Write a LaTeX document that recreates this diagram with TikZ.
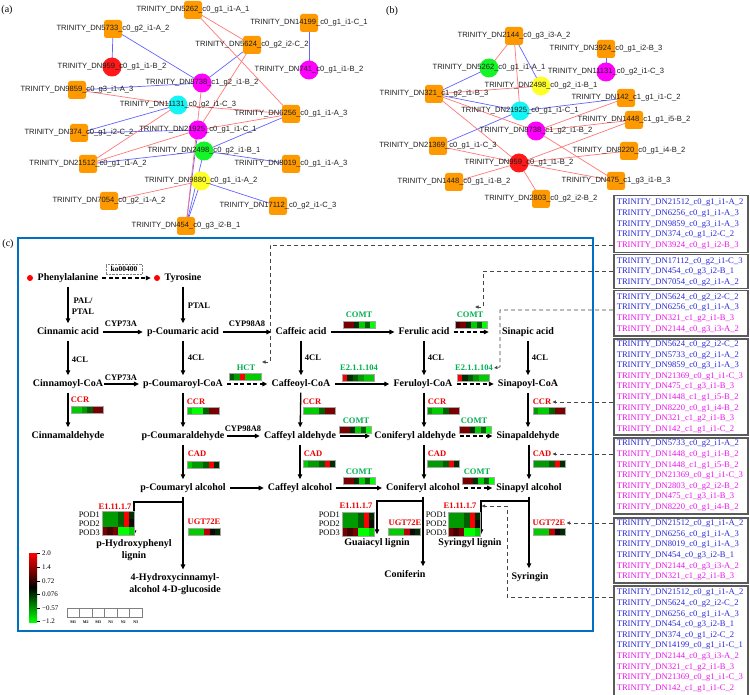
\documentclass[tikz,border=0pt]{standalone}
\usepackage{fontspec}
\setmainfont{Liberation Serif}
\newfontfamily\netfont{Liberation Sans}
\usetikzlibrary{arrows.meta,calc}
\definecolor{netorange}{RGB}{255,153,0}
\definecolor{netred}{RGB}{255,120,120}
\definecolor{netblue}{RGB}{100,100,255}
\definecolor{ncRed}{RGB}{255,25,25}
\definecolor{ncMag}{RGB}{255,0,255}
\definecolor{ncCyan}{RGB}{20,245,245}
\definecolor{ncGreen}{RGB}{20,245,40}
\definecolor{ncYellow}{RGB}{255,255,40}
\definecolor{netgray}{RGB}{30,30,30}
\definecolor{frameblue}{RGB}{0,112,192}
\definecolor{enzgreen}{RGB}{0,176,80}
\definecolor{enzred}{RGB}{240,0,0}
\definecolor{hGa}{RGB}{0,255,0}
\definecolor{hGb}{RGB}{0,205,0}
\definecolor{hGc}{RGB}{0,155,0}
\definecolor{hGd}{RGB}{0,95,0}
\definecolor{hGe}{RGB}{0,45,0}
\definecolor{hK}{RGB}{10,10,10}
\definecolor{hRa}{RGB}{255,0,0}
\definecolor{hRb}{RGB}{190,0,0}
\definecolor{hRc}{RGB}{120,0,0}
\definecolor{hRd}{RGB}{70,0,0}
\definecolor{tblue}{RGB}{40,40,215}
\definecolor{tmag}{RGB}{235,20,235}
\definecolor{boxgray}{RGB}{90,90,90}
\definecolor{conngray}{RGB}{70,70,70}
\pgfdeclarelayer{bg}
\pgfdeclarelayer{edges}
\pgfsetlayers{bg,edges,main}
\newcommand{\nn}[5]{\node[#4,label={[nlab]center:#5}] (#1) at (#2,#3) {};}
\newcommand{\hrow}[9]{\foreach \cc [count=\ii from 0] in {#4,#5,#6,#7,#8,#9}{\fill[\cc] ({#1+\ii*5.4},#2) rectangle ++(5.4,#3);}}
\newcommand{\hmap}[8]{\hrow{#1}{#2}{7}{#3}{#4}{#5}{#6}{#7}{#8}\draw[hmline] (#1,#2) rectangle ++(32.4,7);}
\newcommand{\podmap}[2]{\hrow{#1}{#2}{8}{hGc}{hGc}{hGc}{hGd}{hRa}{hGe}\hrow{#1}{#2+8}{8}{hGc}{hGc}{hGc}{hGd}{hRa}{hK}\hrow{#1}{#2+16}{8}{hRc}{hRd}{hRc}{hGa}{hGa}{hGb}\draw[hmline] (#1,#2) rectangle ++(32.4,24);}
\newcommand{\tb}[1]{\textcolor{tblue}{TRINITY\_#1}}
\newcommand{\tm}[1]{\textcolor{tmag}{TRINITY\_#1}}
\begin{document}
\begin{tikzpicture}[x=1pt,y=-1pt,
  sq/.style={rectangle,rounded corners=2.5pt,fill=netorange,minimum size=18pt,inner sep=0},
  cir/.style={circle,minimum size=19pt,inner sep=0},
  nlab/.style={font=\netfont\fontsize{7.6}{8}\selectfont,text=netgray,inner sep=0},
  eb/.style={draw=netblue,line width=0.7pt},
  er/.style={draw=netred,line width=0.7pt},
  plab/.style={font=\fontsize{10}{11}\selectfont,inner sep=0},
  cmp/.style={font=\bfseries\fontsize{10}{11}\selectfont,inner sep=1pt,text height=7pt,text depth=2pt},
  cmp2/.style={font=\bfseries\fontsize{10}{11.5}\selectfont,inner sep=1pt,align=center},
  enz/.style={font=\bfseries\fontsize{8.5}{11}\selectfont,inner sep=0},
  genz/.style={enz,text=enzgreen},
  renz/.style={enz,text=enzred},
  podl/.style={font=\fontsize{8.4}{9}\selectfont,inner sep=0,anchor=east},
  rdot/.style={circle,fill=red,inner sep=0,minimum size=6pt},
  kob/.style={draw=gray,densely dotted,font=\bfseries\fontsize{7.5}{8}\selectfont,inner sep=1.2pt,minimum width=36pt,minimum height=10pt},
  arr/.style={line width=1.3pt,-{Triangle[length=5pt,width=4.5pt]},shorten <=3pt,shorten >=3pt},
  arrb/.style={line width=1.3pt,-{Triangle[length=5pt,width=4.5pt]},shorten >=3pt},
  darr/.style={arr,dash pattern=on 4pt off 2.5pt},
  hmline/.style={draw=gray!70,line width=0.4pt},
  cbl/.style={font=\fontsize{7}{8}\selectfont,inner sep=0,anchor=west},
  rbox/.style={draw=boxgray,line width=1.5pt,anchor=north west,align=left,text width=128pt,inner xsep=3pt,inner ysep=2pt,font=\fontsize{8.6}{10.6}\selectfont},
  conn/.style={draw=conngray,line width=0.8pt,dash pattern=on 4pt off 3pt,-{Triangle[length=3.5pt,width=3pt]}}
]
\useasboundingbox (0,0) rectangle (750,695);
\begin{pgfonlayer}{bg}
\fill[white] (0,0) rectangle (750,695);
\end{pgfonlayer}
% ---------------- panel (a)
\nn{a5262}{193}{10}{sq}{TRINITY\_DN5262\_c0\_g1\_i1-A\_1}
\nn{a5733}{113}{29}{sq}{TRINITY\_DN5733\_c0\_g2\_i1-A\_2}
\nn{a14199}{309}{23}{sq}{TRINITY\_DN14199\_c0\_g1\_i1-C\_1}
\nn{a5624}{252}{45}{sq}{TRINITY\_DN5624\_c0\_g2\_i2-C\_2}
\nn{a959}{112}{67}{cir,fill=ncRed}{TRINITY\_DN959\_c0\_g1\_i1-B\_2}
\nn{a741}{309}{70}{cir,fill=ncMag}{TRINITY\_DN741\_c0\_g1\_i1-B\_2}
\nn{a8738}{202}{83}{cir,fill=ncMag}{TRINITY\_DN8738\_c1\_g2\_i1-B\_2}
\nn{a9859}{77}{90}{sq}{TRINITY\_DN9859\_c0\_g3\_i1-A\_3}
\nn{a11131}{178}{105}{cir,fill=ncCyan}{TRINITY\_DN11131\_c0\_g2\_i1-C\_3}
\nn{a6256}{291}{114}{sq}{TRINITY\_DN6256\_c0\_g1\_i1-A\_3}
\nn{a21925}{198}{130}{cir,fill=ncMag}{TRINITY\_DN21925\_c0\_g1\_i1-C\_1}
\nn{a374}{79}{133}{sq}{TRINITY\_DN374\_c0\_g1\_i2-C\_2}
\nn{a2498}{204}{151}{cir,fill=ncGreen}{TRINITY\_DN2498\_c0\_g2\_i1-B\_1}
\nn{a21512}{88}{164}{sq}{TRINITY\_DN21512\_c0\_g1\_i1-A\_2}
\nn{a8019}{291}{164}{sq}{TRINITY\_DN8019\_c0\_g1\_i1-A\_3}
\nn{a9880}{201}{181}{cir,fill=ncYellow}{TRINITY\_DN9880\_c0\_g1\_i1-A\_2}
\nn{a7054}{109}{201}{sq}{TRINITY\_DN7054\_c0\_g2\_i1-A\_2}
\nn{a17112}{278}{206}{sq}{TRINITY\_DN17112\_c0\_g2\_i1-C\_3}
\nn{a454}{186}{226}{sq}{TRINITY\_DN454\_c0\_g3\_i2-B\_1}
% ---------------- panel (b)
\nn{b2144}{514}{36}{sq}{TRINITY\_DN2144\_c0\_g3\_i3-A\_2}
\nn{b3924}{606}{49}{sq}{TRINITY\_DN3924\_c0\_g1\_i2-B\_3}
\nn{b5262}{489}{68}{cir,fill=ncGreen}{TRINITY\_DN5262\_c0\_g1\_i1-A\_1}
\nn{b11131}{606}{72}{cir,fill=ncMag}{TRINITY\_DN11131\_c0\_g2\_i1-C\_3}
\nn{b2498}{541}{86}{cir,fill=ncYellow}{TRINITY\_DN2498\_c0\_g2\_i1-B\_1}
\nn{b321}{434}{94}{sq}{TRINITY\_DN321\_c1\_g2\_i1-B\_3}
\nn{b142}{626}{98}{sq}{TRINITY\_DN142\_c1\_g1\_i1-C\_2}
\nn{b21925}{520}{111}{cir,fill=ncCyan}{TRINITY\_DN21925\_c0\_g1\_i1-C\_1}
\nn{b1448c}{634}{120}{sq}{TRINITY\_DN1448\_c1\_g1\_i5-B\_2}
\nn{b8738}{536}{131}{cir,fill=ncMag}{TRINITY\_DN8738\_c1\_g2\_i1-B\_2}
\nn{b21369}{438}{146}{sq}{TRINITY\_DN21369\_c0\_g1\_i1-C\_3}
\nn{b8220}{629}{151}{sq}{TRINITY\_DN8220\_c0\_g1\_i4-B\_2}
\nn{b959}{519}{163}{cir,fill=ncRed}{TRINITY\_DN959\_c0\_g1\_i1-B\_2}
\nn{b475}{616}{181}{sq}{TRINITY\_DN475\_c1\_g3\_i1-B\_3}
\nn{b1448}{454}{182}{sq}{TRINITY\_DN1448\_c0\_g1\_i1-B\_2}
\nn{b2803}{541}{199}{sq}{TRINITY\_DN2803\_c0\_g2\_i2-B\_2}
\begin{pgfonlayer}{edges}
\foreach \u/\v in {a5733/a959,a5733/a8738,a5624/a8738,a14199/a741,a9859/a8738,a11131/a374,a374/a21925,a21512/a2498,a2498/a6256,a2498/a8019,a9880/a17112,a454/a21925,a454/a2498,a454/a9880,
  b2144/b2498,b3924/b11131,b5262/b321,b321/b21925,b21925/b21369,b21925/b142}
  \draw[eb] (\u.center) -- (\v.center);
\foreach \u/\v in {a5262/a5624,a5262/a6256,a5624/a21925,a9859/a11131,a11131/a6256,a21512/a11131,a21512/a21925,a7054/a9880,a21925/a6256,a454/a8738,
  b2144/b5262,b2144/b21925,b321/b2498,b321/b8738,b321/b959,b21369/b959,b959/b1448,b959/b2803,b959/b475,b959/b8220,b959/b1448c,b8738/b142,b8738/b1448c,b8738/b475}
  \draw[er] (\u.center) -- (\v.center);
\end{pgfonlayer}
\node[plab] (pa) at (7,10) {(a)};
\node[plab] (pb) at (392,11) {(b)};
\node[plab] (pc) at (8,244) {(c)};
% ---------------- panel (c)
\draw[frameblue,line width=1.8pt] (18,238) rectangle (593,631);
\node[cmp] (phe) at (68,278) {Phenylalanine};
\node[rdot] (dphe) at (30,278) {};
\node[cmp] (tyr) at (183,278) {Tyrosine};
\node[rdot] (dtyr) at (157,278) {};
\node[kob] (ko) at (124,269) {ko00400};
\node[cmp] (cinn) at (68,332) {Cinnamic acid};
\node[cmp] (pcoum) at (183,332) {p-Coumaric acid};
\node[cmp] (caff) at (301,332) {Caffeic acid};
\node[cmp] (fer) at (424,332) {Ferulic acid};
\node[cmp] (sinac) at (528,332) {Sinapic acid};
\node[cmp] (cinncoa) at (68,384) {Cinnamoyl-CoA};
\node[cmp] (pcoumcoa) at (183,384) {p-Coumaroyl-CoA};
\node[cmp] (caffcoa) at (301,384) {Caffeoyl-CoA};
\node[cmp] (fercoa) at (423,384) {Feruloyl-CoA};
\node[cmp] (sincoa) at (528,384) {Sinapoyl-CoA};
\node[cmp] (cinnald) at (68,436) {Cinnamaldehyde};
\node[cmp] (pcoumald) at (183,436) {p-Coumaraldehyde};
\node[cmp] (caffald) at (300,436) {Caffeyl aldehyde};
\node[cmp] (conald) at (415,436) {Coniferyl aldehyde};
\node[cmp] (sinald) at (528,436) {Sinapaldehyde};
\node[cmp] (pcoumalc) at (183,488) {p-Coumaryl alcohol};
\node[cmp] (caffalc) at (300,488) {Caffeyl alcohol};
\node[cmp] (conalc) at (423,488) {Coniferyl alcohol};
\node[cmp] (sinalc) at (529,488) {Sinapyl alcohol};
\node[cmp2] (phlig) at (134,550) {p-Hydroxyphenyl\\lignin};
\node[cmp2] (hcg) at (175,584) {4-Hydroxycinnamyl-\\alcohol 4-D-glucoside};
\node[cmp] (glig) at (377,543) {Guaiacyl lignin};
\node[cmp] (conif) at (405,575) {Coniferin};
\node[cmp] (slig) at (470,543) {Syringyl lignin};
\node[cmp] (syrin) at (530,577) {Syringin};
% black enzyme labels
\node[enz,align=center] (kpal) at (83,306) {PAL/\\PTAL};
\node[enz] (kptal) at (199,306) {PTAL};
\node[enz] (kcyp1) at (121,324) {CYP73A};
\node[enz] (kcyp2) at (247,324) {CYP98A8};
\node[enz] (k4cl1) at (80,360) {4CL};
\node[enz] (k4cl2) at (196,358) {4CL};
\node[enz] (k4cl3) at (313,358) {4CL};
\node[enz] (k4cl4) at (436,358) {4CL};
\node[enz] (k4cl5) at (540,358) {4CL};
\node[enz] (kcyp3) at (121,378) {CYP73A};
\node[enz] (kcyp4) at (243,429) {CYP98A8};
% arrows
\draw[darr] (phe) -- (dtyr);
\draw[arr] (phe) -- (cinn);
\draw[arr] (tyr) -- (pcoum);
\draw[arr] (cinn) -- (pcoum);
\draw[arr] (pcoum) -- (caff);
\draw[arr] (caff) -- (fer);
\draw[darr,shorten >=12pt] (fer) -- (sinac);
\draw[arr] (cinn) -- (cinncoa);
\draw[arr] (pcoum) -- (pcoumcoa);
\draw[arr] (caff) -- (caffcoa);
\draw[arr] (fer.south) -- (fer.south |- fercoa.north);
\draw[arr] (sinac) -- (sincoa);
\draw[arr,shorten <=0pt] (cinncoa) -- (pcoumcoa);
\draw[darr] (pcoumcoa) -- (caffcoa);
\draw[arr] (caffcoa) -- (fercoa);
\draw[darr] (fercoa) -- (sincoa);
\draw[arr] (cinncoa) -- (cinnald);
\draw[arr] (pcoumcoa) -- (pcoumald);
\draw[arr] (caffcoa) -- (caffald);
\draw[arr] (fer.south |- fercoa.south) -- (fer.south |- conald.north);
\draw[arr] (sincoa) -- (sinald);
\draw[arr,shorten <=1pt] (pcoumald) -- (caffald);
\draw[arr] (caffald) -- (conald);
\draw[darr] (conald) -- (sinald);
\draw[arr] (pcoumald) -- (pcoumalc);
\draw[arr] (caffald) -- (caffalc);
\draw[arr] (fer.south |- conald.south) -- (fer.south |- conalc.north);
\draw[arr] (sinald.south -| sinalc) -- (sinalc.north);
\draw[arr] (pcoumalc) -- (caffalc);
\draw[arr] (caffalc) -- (conalc);
\draw[darr] (conalc) -- (sinalc);
\draw[arr] (pcoumalc.south) -- (pcoumalc.south |- hcg.north);
\draw[arr] (conalc.south) -- (conalc.south |- conif.north);
\draw[arr] (sinalc.south) -- (sinalc.south |- syrin.north);
\coordinate (br1) at (183,502);
\coordinate (br2) at (423,501);
\coordinate (br3) at (529,501);
\draw[arrb] (br1) -| (phlig.north);
\draw[arrb] (br2) -| (glig.north);
\draw[arrb] (br3) -| ($(slig.north)+(11,0)$);
% coloured enzyme labels and heat maps
\node[renz] (lccr1) at (80,400) {CCR};
\node[renz] (lccr2) at (196,402) {CCR};
\node[renz] (lccr3) at (312,402) {CCR};
\node[renz] (lccr4) at (437,402) {CCR};
\node[renz] (lccr5) at (542,402) {CCR};
\node[genz] (lhct) at (246,368) {HCT};
\node[genz] (lcomt1) at (359,315) {COMT};
\node[genz] (lcomt2) at (470,315) {COMT};
\node[genz] (le2a) at (359,368) {E2.1.1.104};
\node[genz] (le2b) at (474,368) {E2.1.1.104};
\node[genz] (lcomt3) at (356,421) {COMT};
\node[genz] (lcomt4) at (474,421) {COMT};
\node[renz] (lcad1) at (197,454) {CAD};
\node[renz] (lcad2) at (313,454) {CAD};
\node[renz] (lcad3) at (437,454) {CAD};
\node[renz] (lcad4) at (542,454) {CAD};
\node[genz] (lcomt5) at (359,472) {COMT};
\node[genz] (lcomt6) at (477,472) {COMT};
\node[renz] (lpod1) at (115,507) {E1.11.1.7};
\node[renz] (lugt1) at (204,522) {UGT72E};
\node[renz] (lpod2) at (356,506) {E1.11.1.7};
\node[renz] (lugt2) at (405,523) {UGT72E};
\node[renz] (lpod3) at (460,506) {E1.11.1.7};
\node[renz] (lugt3) at (549,523) {UGT72E};
\hmap{71}{406}{hGb}{hGb}{hGc}{hGd}{hRc}{hRc}
\hmap{187}{407}{hGb}{hGa}{hGa}{hGd}{hRc}{hRc}
\hmap{303}{407}{hGb}{hGb}{hGb}{hGd}{hRc}{hRc}
\hmap{427}{407}{hGc}{hGb}{hGb}{hGd}{hRc}{hRc}
\hmap{533}{407}{hGc}{hGb}{hGb}{hGd}{hRc}{hRc}
\hmap{229}{373}{hGd}{hGc}{hRa}{hGb}{hGb}{hGb}
\hmap{343}{321}{hRc}{hRc}{hGe}{hGb}{hGd}{hGa}
\hmap{455}{321}{hRd}{hRc}{hGe}{hGb}{hGd}{hGa}
\hmap{342}{374}{hRa}{hGe}{hGd}{hGc}{hGb}{hGb}
\hmap{457}{374}{hRa}{hGe}{hGd}{hGc}{hGb}{hGb}
\hmap{339}{426}{hRc}{hRc}{hGe}{hGb}{hGd}{hGa}
\hmap{459}{426}{hRc}{hRc}{hGe}{hGb}{hGd}{hGa}
\hmap{187}{461}{hGb}{hGc}{hGc}{hGd}{hRa}{hGe}
\hmap{303}{460}{hGb}{hGc}{hGc}{hGd}{hRa}{hGe}
\hmap{427}{460}{hGc}{hGc}{hGc}{hGd}{hRa}{hGe}
\hmap{533}{460}{hGc}{hGc}{hGc}{hGd}{hRa}{hGe}
\hmap{343}{477}{hRc}{hRc}{hGe}{hGb}{hGd}{hGa}
\hmap{462}{477}{hRc}{hRc}{hGe}{hGb}{hGd}{hGa}
\hmap{188}{528}{hGb}{hGb}{hGb}{hRb}{hK}{hGe}
\hmap{388}{528}{hGb}{hGb}{hGb}{hRb}{hK}{hGe}
\hmap{533}{528}{hGb}{hGb}{hGb}{hRb}{hK}{hGe}
\podmap{102}{511}
\podmap{342}{512}
\podmap{448}{512}
\foreach \px/\pn in {100/1,340/2,447/3}{
  \node[podl] (pod\pn a) at (\px,515) {POD1};
  \node[podl] (pod\pn b) at (\px,524) {POD2};
  \node[podl] (pod\pn c) at (\px,533) {POD3};}
% colour bar
\shade[top color=red,bottom color=green,middle color=black] (29,553) rectangle (37,622);
\foreach \yy/\tt in {553/2.0,567/1.4,581/0.72,594/0.076,608/−0.57,621/−1.2}{
  \draw[line width=0.4pt] (37,\yy) -- (40,\yy);
  \node[cbl] (cb\yy) at (42,\yy) {\tt};}
\foreach \k/\lab in {0/M1,1/M2,2/M3,3/N1,4/N2,5/N3}{
  \draw[gray,line width=0.5pt] ({67+\k*12.5},608) rectangle ++(12.5,9);
  \node[font=\bfseries\fontsize{4}{4}\selectfont,inner sep=0] (lg\k) at ({73.25+\k*12.5},622) {\lab};}
% right boxes
\node[rbox,minimum height=57pt] (bx1) at (613,195) {\tb{DN21512\_c0\_g1\_i1-A\_2}\\\tb{DN6256\_c0\_g1\_i1-A\_3}\\\tb{DN9859\_c0\_g3\_i1-A\_3}\\\tb{DN374\_c0\_g1\_i2-C\_2}\\\tm{DN3924\_c0\_g1\_i2-B\_3}};
\node[rbox,minimum height=34pt] (bx2) at (613,254) {\tb{DN17112\_c0\_g2\_i1-C\_3}\\\tb{DN454\_c0\_g3\_i2-B\_1}\\\tb{DN7054\_c0\_g2\_i1-A\_2}};
\node[rbox,minimum height=45pt] (bx3) at (613,290) {\tb{DN5624\_c0\_g2\_i2-C\_2}\\\tb{DN6256\_c0\_g1\_i1-A\_3}\\\tm{DN321\_c1\_g2\_i1-B\_3}\\\tm{DN2144\_c0\_g3\_i3-A\_2}};
\node[rbox,minimum height=96pt] (bx4) at (613,338) {\tb{DN5624\_c0\_g2\_i2-C\_2}\\\tb{DN5733\_c0\_g2\_i1-A\_2}\\\tb{DN9859\_c0\_g3\_i1-A\_3}\\\tm{DN21369\_c0\_g1\_i1-C\_3}\\\tm{DN475\_c1\_g3\_i1-B\_3}\\\tm{DN1448\_c1\_g1\_i5-B\_2}\\\tm{DN8220\_c0\_g1\_i4-B\_2}\\\tm{DN321\_c1\_g2\_i1-B\_3}\\\tm{DN142\_c1\_g1\_i1-C\_2}};
\node[rbox,minimum height=76pt] (bx5) at (613,437) {\tb{DN5733\_c0\_g2\_i1-A\_2}\\\tm{DN1448\_c0\_g1\_i1-B\_2}\\\tm{DN1448\_c1\_g1\_i5-B\_2}\\\tm{DN21369\_c0\_g1\_i1-C\_3}\\\tm{DN2803\_c0\_g2\_i2-B\_2}\\\tm{DN475\_c1\_g3\_i1-B\_3}\\\tm{DN8220\_c0\_g1\_i4-B\_2}};
\node[rbox,minimum height=65pt] (bx6) at (613,517) {\tb{DN21512\_c0\_g1\_i1-A\_2}\\\tb{DN6256\_c0\_g1\_i1-A\_3}\\\tb{DN8019\_c0\_g1\_i1-A\_3}\\\tb{DN454\_c0\_g3\_i2-B\_1}\\\tm{DN2144\_c0\_g3\_i3-A\_2}\\\tm{DN321\_c1\_g2\_i1-B\_3}};
\node[rbox,minimum height=110pt] (bx7) at (613,585) {\tb{DN21512\_c0\_g1\_i1-A\_2}\\\tb{DN5624\_c0\_g2\_i2-C\_2}\\\tb{DN6256\_c0\_g1\_i1-A\_3}\\\tb{DN454\_c0\_g3\_i2-B\_1}\\\tb{DN374\_c0\_g1\_i2-C\_2}\\\tb{DN14199\_c0\_g1\_i1-C\_1}\\\tm{DN2144\_c0\_g3\_i3-A\_2}\\\tm{DN321\_c1\_g2\_i1-B\_3}\\\tm{DN21369\_c0\_g1\_i1-C\_3}\\\tm{DN142\_c1\_g1\_i1-C\_2}};
% dashed connectors
\coordinate (hctin) at (262,362);
\coordinate (comtin) at (475,307);
\draw[conn] (bx1.west |- 0,245) -| (270,362) -- (hctin);
\draw[conn] (bx2.west |- 0,271) -| (483,307) -- (comtin);
\draw[conn] (bx3.west |- 0,310) -| (500,367) -- ([xshift=1pt]le2b.east);
\draw[conn] (bx4.west |- lccr5) -- ([xshift=1pt]lccr5.east);
\draw[conn] (bx5.west |- lcad4) -- ([xshift=1pt]lcad4.east);
\draw[conn] (bx6.west |- lugt3) -- ([xshift=1pt]lugt3.east);
\draw[conn] (bx7.west |- 0,597) -| (507,506) -- ([xshift=5pt]lpod3.east);
\end{tikzpicture}
\end{document}
